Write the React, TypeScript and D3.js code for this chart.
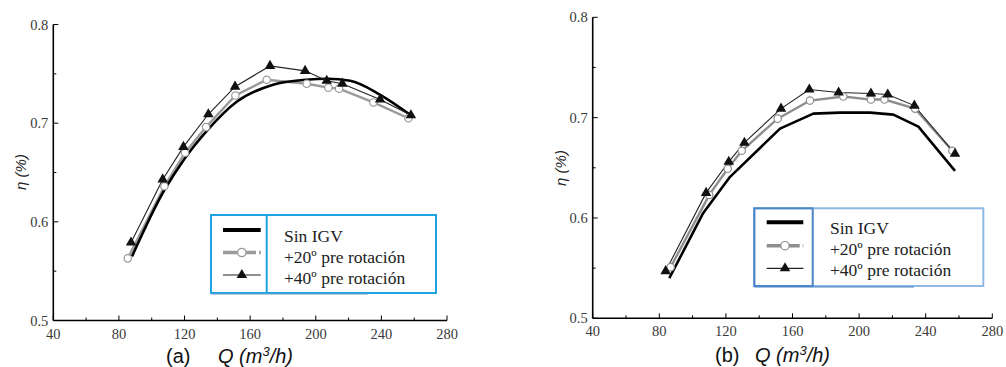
import React from "react";
import * as d3 from "d3";

// ---- Panel (a): efficiency vs flow ----
const aSinQ = [88, 107, 120, 134, 152, 174, 194, 207, 221, 239, 258];
const aSinEta = [0.565, 0.630, 0.664, 0.693, 0.722, 0.739, 0.744, 0.745, 0.743, 0.729, 0.708];
const a20Q = [85.4, 107.7, 120.3, 133.1, 151, 170.1, 194.5, 207.7, 214.2, 235.1, 256.5];
const a20Eta = [0.563, 0.636, 0.670, 0.696, 0.728, 0.744, 0.740, 0.736, 0.735, 0.721, 0.705];
const a40Q = [87.4, 106.7, 119.3, 134.5, 150.8, 172.1, 193.5, 206.7, 216.2, 239.2, 258];
const a40Eta = [0.579, 0.643, 0.676, 0.709, 0.737, 0.758, 0.753, 0.743, 0.740, 0.724, 0.708];

// ---- Panel (b) ----
const bSinQ = [86, 106.4, 122.5, 152.5, 172.5, 188.5, 206.6, 220.6, 235.6, 257.6];
const bSinEta = [0.540, 0.605, 0.641, 0.689, 0.704, 0.705, 0.705, 0.703, 0.691, 0.647];
const b20Q = [86.8, 110, 121.1, 129.5, 151.1, 170.5, 190.5, 207.1, 215.2, 233.6, 256];
const b20Eta = [0.551, 0.623, 0.649, 0.667, 0.699, 0.717, 0.721, 0.718, 0.718, 0.709, 0.667];
const b40Q = [83.8, 108.1, 121.7, 131.1, 153.1, 170.1, 187.7, 207.1, 217.2, 233.2, 257.6];
const b40Eta = [0.547, 0.625, 0.656, 0.675, 0.709, 0.728, 0.725, 0.724, 0.723, 0.712, 0.664];

const xMajor = [40, 80, 120, 160, 200, 240, 280];
const xMinor = [60, 100, 140, 180, 220, 260];
const yMajor = [0.5, 0.6, 0.7, 0.8];
const yMinor = [0.55, 0.65, 0.75];
const seriesNames = ["Sin IGV", "+20º pre rotación", "+40º pre rotación"];

const SERIF = "'Liberation Serif', 'Times New Roman', serif";
const SANS = "'Liberation Sans', Arial, sans-serif";

type Pt = [number, number];
const zip = (q: number[], e: number[]): Pt[] => q.map((v, i) => [v, e[i]]);

interface PanelProps {
  x0: number; x1: number; y0: number; y1: number;
  sin: Pt[]; p20: Pt[]; p40: Pt[];
  smoothSin: boolean;
  caption: string; capX: number; qX: number; capY: number;
  etaX: number; etaY: number;
  legend: { x0: number; x1: number; y0: number; y1: number; div: number; sx0: number; sx1: number; rows: number[]; tx: number; base: number[] };
  legendColor: string; legendInner: string; bottomTo: number; bottomColor: string;
  gray: string;
}

function Panel(p: PanelProps) {
  const x = d3.scaleLinear().domain([40, 280]).range([p.x0, p.x1]);
  const y = d3.scaleLinear().domain([0.5, 0.8]).range([p.y0, p.y1]);
  const lin = d3.line<Pt>().x(d => x(d[0])).y(d => y(d[1]));
  const smooth = d3.line<Pt>().x(d => x(d[0])).y(d => y(d[1])).curve(d3.curveMonotoneX);
  const tri = d3.symbol().type(d3.symbolTriangle).size(48)();
  const L = p.legend;
  const sMid = (L.sx0 + L.sx1) / 2;
  return (
    <g>
      {/* plotted series */}
      <path d={lin(p.p20) || ""} fill="none" stroke={p.gray} strokeWidth={2.4} />
      <path d={(p.smoothSin ? smooth(p.sin) : lin(p.sin)) || ""} fill="none" stroke="#000" strokeWidth={2.6} strokeLinejoin="round" />
      <path d={lin(p.p40) || ""} fill="none" stroke="#222" strokeWidth={1.1} />
      {p.p20.map((d, i) => (
        <circle key={"c" + i} cx={x(d[0])} cy={y(d[1])} r={3.7} fill="#fff" stroke={p.gray} strokeWidth={1.2} />
      ))}
      {p.p40.map((d, i) => (
        <path key={"t" + i} d={tri || ""} transform={`translate(${x(d[0])},${y(d[1])})`} fill="#111" />
      ))}

      {/* axes */}
      <line x1={x(40)} x2={x(40)} y1={y(0.5)} y2={y(0.8)} stroke="#000" strokeWidth={1.6} />
      <line x1={x(40)} x2={x(280)} y1={y(0.5)} y2={y(0.5)} stroke="#000" strokeWidth={1.6} />
      {yMajor.map(v => (
        <g key={"ym" + v}>
          <line x1={x(40)} x2={x(40) + 5} y1={y(v)} y2={y(v)} stroke="#000" strokeWidth={1} />
          <text x={x(40) - 5} y={y(v) + 5} textAnchor="end" fontFamily={SERIF} fontSize={14.5} fill="#3a3a3a">{v.toFixed(1)}</text>
        </g>
      ))}
      {yMinor.map(v => (
        <line key={"yn" + v} x1={x(40)} x2={x(40) + 3} y1={y(v)} y2={y(v)} stroke="#000" strokeWidth={1} />
      ))}
      {xMajor.map(v => (
        <g key={"xm" + v}>
          <line x1={x(v)} x2={x(v)} y1={y(0.5)} y2={y(0.5) - 5} stroke="#000" strokeWidth={1} />
          <text x={x(v)} y={y(0.5) + 18} textAnchor="middle" fontFamily={SERIF} fontSize={14.5} fill="#3a3a3a">{v}</text>
        </g>
      ))}
      {xMinor.map(v => (
        <line key={"xn" + v} x1={x(v)} x2={x(v)} y1={y(0.5)} y2={y(0.5) - 3} stroke="#000" strokeWidth={1} />
      ))}

      {/* axis titles */}
      <text transform={`translate(${p.etaX},${p.etaY}) rotate(-90)`} textAnchor="middle" fontFamily={SANS} fontStyle="italic" fontSize={15} fill="#222">η (%)</text>
      <text x={p.capX} y={p.capY} fontFamily={SANS} fontSize={20} fill="#111">{p.caption}</text>
      <text x={p.qX} y={p.capY} fontFamily={SANS} fontSize={20} fontStyle="italic" fill="#111">
        Q (m<tspan dy={-7} fontSize={13}>3</tspan><tspan dy={7}>/h)</tspan>
      </text>

      {/* legend */}
      <rect x={L.x0} y={L.y0} width={L.x1 - L.x0} height={L.y1 - L.y0} fill="#fff" stroke={p.legendColor} strokeWidth={2} />
      <rect x={L.x0} y={L.y0} width={L.div - L.x0} height={L.y1 - L.y0} fill="none" stroke={p.legendInner} strokeWidth={2} />
      <line x1={L.x0} x2={p.bottomTo} y1={L.y1 + 1} y2={L.y1 + 1} stroke={p.bottomColor} strokeWidth={1.2} />
      <line x1={L.sx0} x2={L.sx1} y1={L.rows[0]} y2={L.rows[0]} stroke="#000" strokeWidth={4} />
      <line x1={L.sx0} x2={L.sx1} y1={L.rows[1]} y2={L.rows[1]} stroke={p.gray} strokeWidth={3.5} strokeDasharray="15 3" />
      <circle cx={sMid} cy={L.rows[1]} r={4.2} fill="#fff" stroke={p.gray} strokeWidth={1.2} />
      <line x1={L.sx0} x2={L.sx1} y1={L.rows[2]} y2={L.rows[2]} stroke="#222" strokeWidth={1.2} />
      <path d={tri || ""} transform={`translate(${sMid},${L.rows[2]})`} fill="#111" />
      {seriesNames.map((s, i) => (
        <text key={s} x={L.tx} y={L.base[i]} fontFamily={SERIF} fontSize={17.5} fill="#222">{s}</text>
      ))}
    </g>
  );
}

export default function App() {
  return (
    <svg width={1006} height={367} style={{ position: "absolute", left: 0, top: 0, background: "#fff" }}>
      <rect width={1006} height={367} fill="#fff" />
      <Panel
        x0={53.3} x1={447} y0={320.5} y1={24.5}
        sin={zip(aSinQ, aSinEta)} p20={zip(a20Q, a20Eta)} p40={zip(a40Q, a40Eta)}
        smoothSin={true}
        caption="(a)" capX={166} qX={218} capY={363}
        etaX={26} etaY={172}
        legend={{ x0: 211, x1: 436, y0: 215, y1: 293, div: 266.7, sx0: 223, sx1: 260.7, rows: [230, 252.5, 275], tx: 284, base: [241.5, 262.5, 283.5] }}
        legendColor="#1da3e0" legendInner="#1da3e0" bottomTo={368} bottomColor="#6d9cc8"
        gray="#9a9a9a"
      />
      <Panel
        x0={592.7} x1={992.3} y0={318.3} y1={17.3}
        sin={zip(bSinQ, bSinEta)} p20={zip(b20Q, b20Eta)} p40={zip(b40Q, b40Eta)}
        smoothSin={false}
        caption="(b)" capX={715} qX={755} capY={362}
        etaX={566} etaY={168}
        legend={{ x0: 754.3, x1: 983.3, y0: 208.3, y1: 286, div: 812.7, sx0: 766.7, sx1: 803.3, rows: [222.3, 245.7, 268.3], tx: 830, base: [233.5, 254.5, 275.5] }}
        legendColor="#8fb8e3" legendInner="#4a85c8" bottomTo={914} bottomColor="#4a85c8"
        gray="#8e8e8e"
      />
    </svg>
  );
}
